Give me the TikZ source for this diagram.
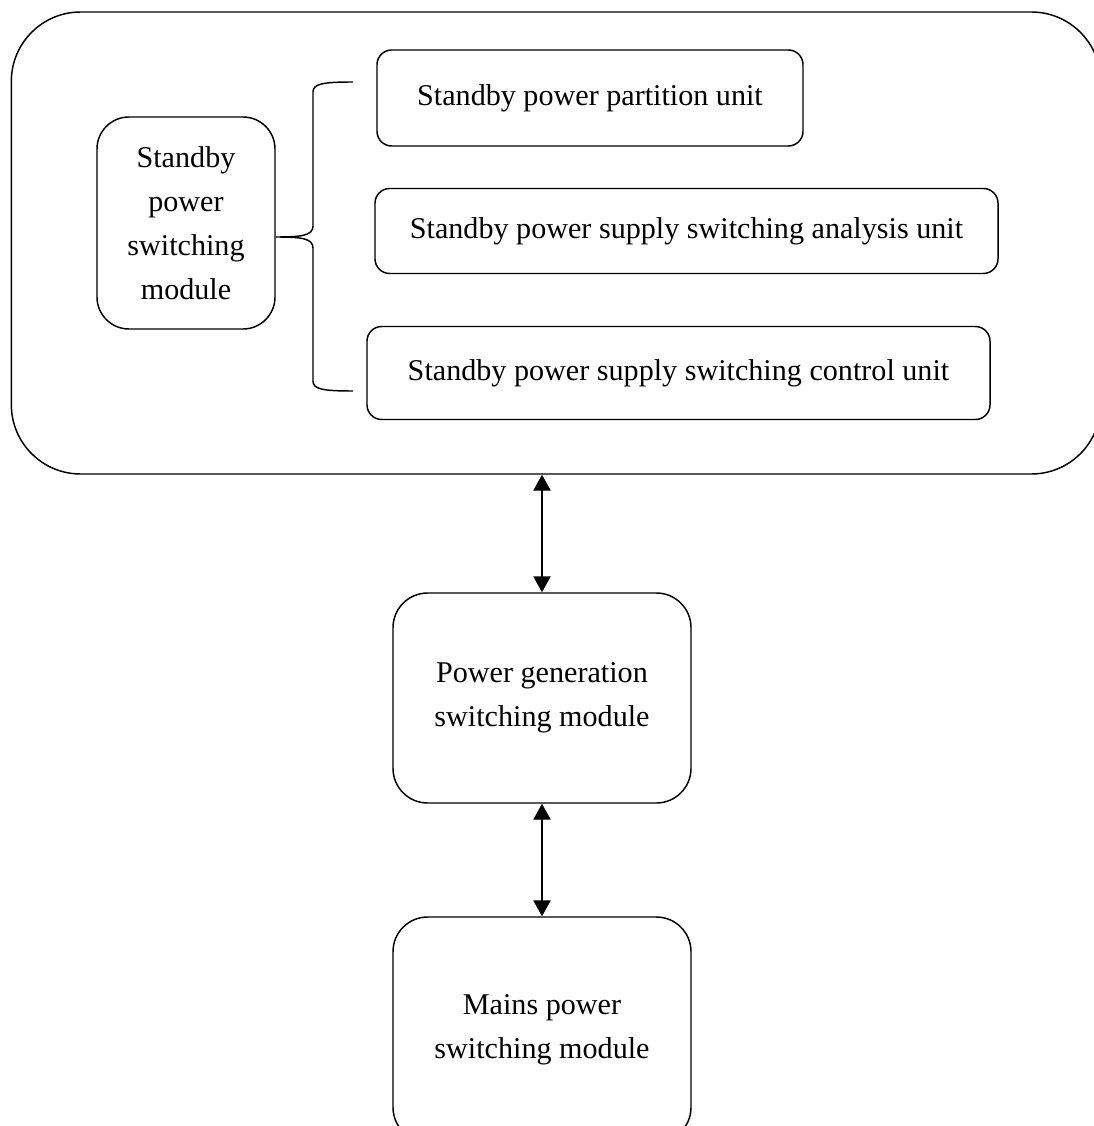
\documentclass[tikz,border=0pt]{standalone}
\usepackage{fontspec}
\setmainfont{Liberation Serif}
\usetikzlibrary{arrows.meta, positioning, calc}

\begin{document}
\begin{tikzpicture}[x=0.75pt, y=-0.75pt,
  unitbox/.style={draw, line width=1.1pt, rounded corners=11pt, align=center,
    font=\fontsize{22.6}{33}\selectfont, inner sep=0pt},
  modbox/.style={unitbox, rounded corners=24pt},
  link/.style={{Triangle[length=12pt, width=13pt]}-{Triangle[length=12pt, width=13pt]}, line width=1.1pt}]
  \useasboundingbox (0,0) rectangle (1093,1126);

  % Standby side
  \node[draw, line width=1.1pt, rounded corners=52pt, minimum width=817pt, minimum height=346.5pt]
    (outer) at (556, 243) {};
  \node[modbox, minimum width=133.5pt, minimum height=159pt] (standby) at (186, 223)
    {Standby\\power\\switching\\module};
  \node[unitbox, minimum width=319.5pt, minimum height=72pt] (partition) at (590, 98)
    {Standby power partition unit};
  \node[unitbox, minimum width=467.25pt, minimum height=63.75pt] (analysis) at (686.5, 231)
    {Standby power supply switching analysis unit};
  \node[unitbox, minimum width=467.25pt, minimum height=69.75pt] (control) at (678.5, 373)
    {Standby power supply switching control unit};

  % brace
  \coordinate (btop) at (353, 82);
  \coordinate (bbot) at (353, 391);
  \draw[line width=1.1pt]
    (btop) .. controls (322, 82) and (313, 84) .. (313, 92)
    -- (313, 226) .. controls (313, 236) and (300, 237) .. (standby.east |- 0, 237)
    (standby.east |- 0, 237) .. controls (300, 237) and (313, 238) .. (313, 248)
    -- (313, 381) .. controls (313, 389) and (322, 391) .. (bbot);

  % lower modules
  \node[modbox, rounded corners=26pt, minimum width=223.5pt, minimum height=157.5pt]
    (gen) at (542, 698) {Power generation\\switching module};
  \node[modbox, rounded corners=26pt, minimum width=223.5pt, minimum height=168.75pt]
    (mains) at (542, 1029.5) {Mains power\\switching module};

  \draw[link] (gen.north |- outer.south) -- (gen.north);
  \draw[link] (gen.south) -- (mains.north);
\end{tikzpicture}
\end{document}
